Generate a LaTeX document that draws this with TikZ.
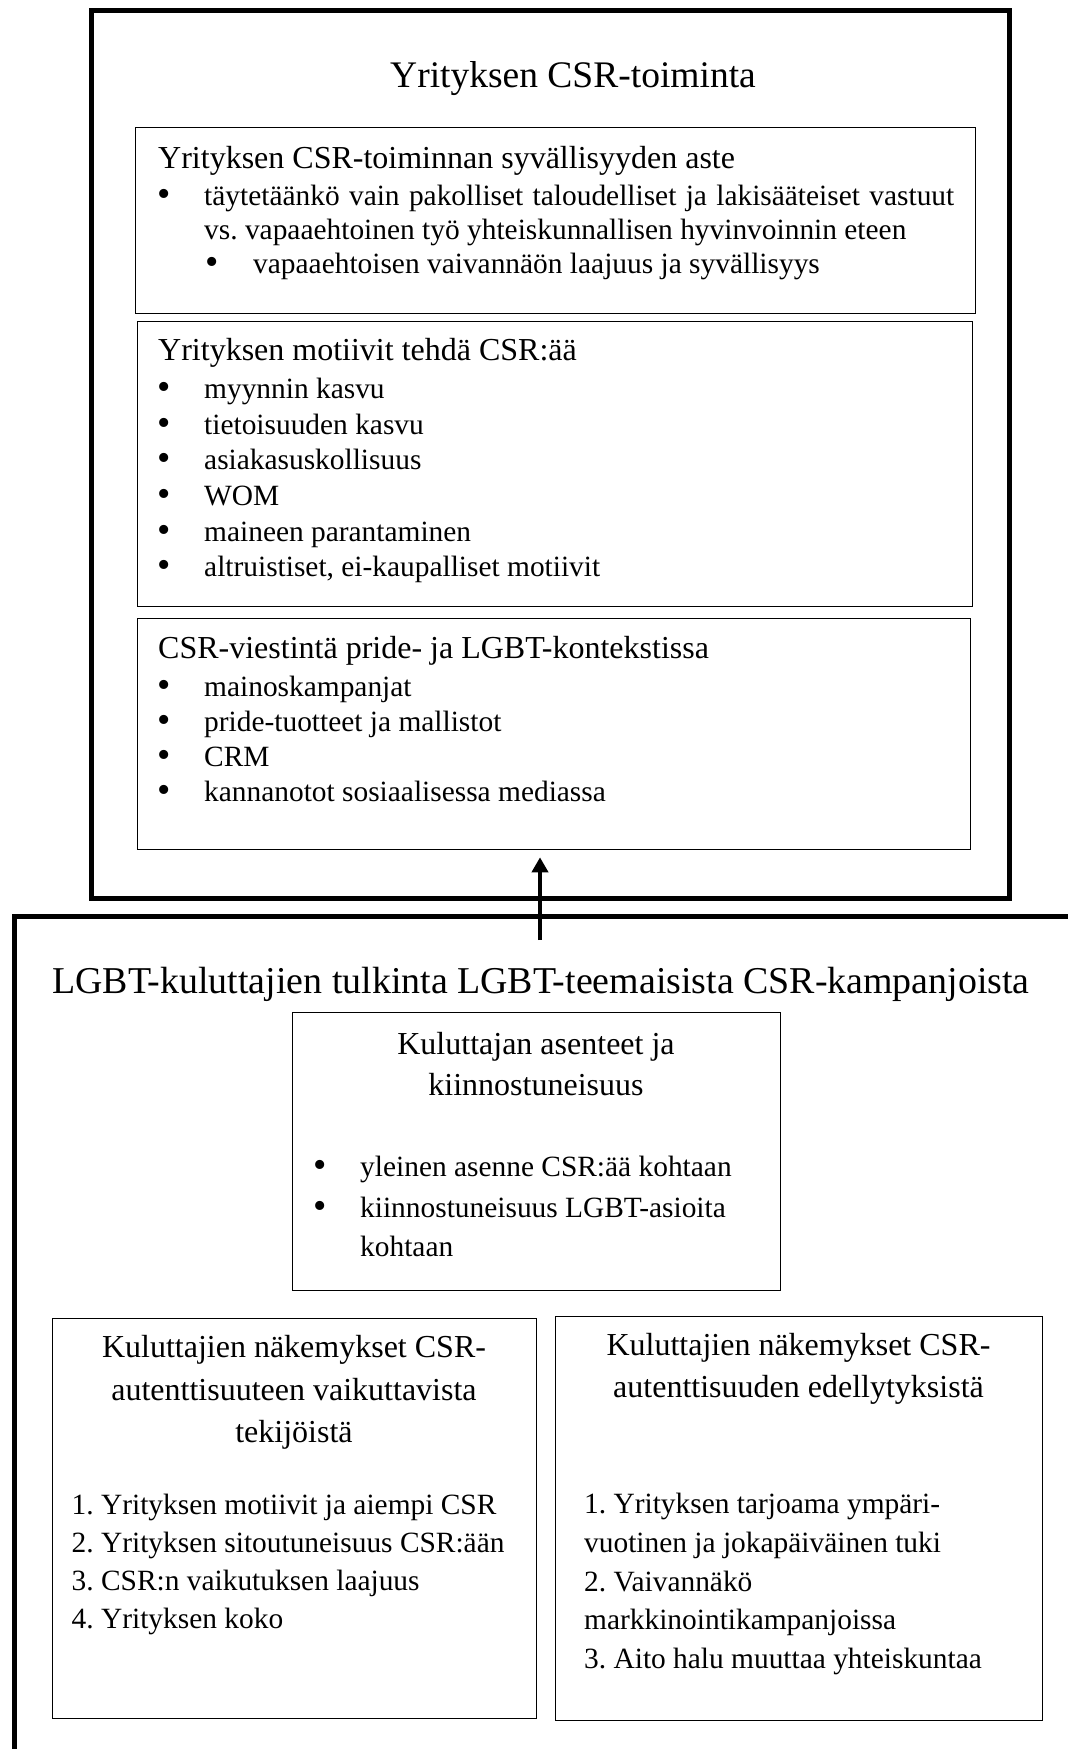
\documentclass[tikz,border=0pt]{standalone}
\usepackage{fontspec}
\setmainfont{Liberation Serif}
\usetikzlibrary{arrows.meta}
\newcommand{\bul}[1]{\makebox[#1pt][l]{\makebox[10pt][c]{\fontsize{38}{38}\selectfont\raisebox{-1pt}{•}}}}
\frenchspacing
\begin{document}
\frenchspacing
\begin{tikzpicture}[x=1pt,y=-1pt,
  frame/.style={draw, line width=5pt, inner sep=0pt, anchor=north west},
  box/.style={draw, line width=1.3pt, inner sep=0pt, anchor=north west},
  txt/.style={anchor=mid west, inner sep=0pt, font=\fontsize{32}{36}\selectfont},
  itm/.style={anchor=mid west, inner sep=0pt, font=\fontsize{29.4}{34}\selectfont},
  ctxt/.style={anchor=mid, inner sep=0pt, font=\fontsize{32}{36}\selectfont},
  bigA/.style={anchor=mid, inner sep=0pt, font=\fontsize{37.5}{40}\selectfont},
  bigB/.style={anchor=mid, inner sep=0pt, font=\fontsize{37.9}{40}\selectfont},
  arr/.style={line width=4pt, -{Triangle[length=15pt,width=16pt]}}]
\useasboundingbox (0,0) rectangle (1068,1749);
\clip (0,0) rectangle (1068,1749);
\fill[white] (0,0) rectangle (1068,1749);

% top frame
\node[frame, minimum width=918pt, minimum height=888pt] (top) at (89,8) {};
\node[bigA] (ttl1) at (573,85) {Yrityksen CSR-toiminta};

\node[box, minimum width=840pt, minimum height=186pt] (b1) at (135,127) {};
\node[txt] (b1h) at (158,166) {Yrityksen CSR-toiminnan syvällisyyden aste};
\node[itm] (b1a) at (159,203) {\bul{45}\makebox[750pt][s]{täytetäänkö vain pakolliset taloudelliset ja lakisääteiset vastuut}};
\node[itm] (b1b) at (204,237) {vs. vapaaehtoinen työ yhteiskunnallisen hyvinvoinnin eteen};
\node[itm] (b1c) at (207,271) {\bul{46}vapaaehtoisen vaivannäön laajuus ja syvällisyys};

\node[box, minimum width=835pt, minimum height=285pt] (b2) at (137,321) {};
\node[txt] (b2h) at (158,358) {Yrityksen motiivit tehdä CSR:ää};
\node[itm] (b2a) at (159,396.5) {\bul{45}myynnin kasvu};
\node[itm] (b2b) at (159,432) {\bul{45}tietoisuuden kasvu};
\node[itm] (b2c) at (159,467) {\bul{45}asiakasuskollisuus};
\node[itm] (b2d) at (159,503) {\bul{45}WOM};
\node[itm] (b2e) at (159,539) {\bul{45}maineen parantaminen};
\node[itm] (b2f) at (159,574.5) {\bul{45}altruistiset, ei-kaupalliset motiivit};

\node[box, minimum width=833pt, minimum height=231pt] (b3) at (137,618) {};
\node[txt] (b3h) at (158,656) {CSR-viestintä pride- ja LGBT-kontekstissa};
\node[itm] (b3a) at (159,694) {\bul{45}mainoskampanjat};
\node[itm] (b3b) at (159,729) {\bul{45}pride-tuotteet ja mallistot};
\node[itm] (b3c) at (159,764) {\bul{45}CRM};
\node[itm] (b3d) at (159,799.5) {\bul{45}kannanotot sosiaalisessa mediassa};

% bottom frame
\node[frame, minimum width=1200pt, minimum height=1000pt] (bot) at (12,914) {};
\node[bigB] (ttl2) at (541,991) {LGBT-kuluttajien tulkinta LGBT-teemaisista CSR-kampanjoista};

\coordinate (astart) at (540,940);
\draw[arr] (astart) -- ([yshift=-7pt]b3.south -| astart);

\node[box, minimum width=488pt, minimum height=278pt] (k) at (292,1012) {};
\node[ctxt] (kh1) at (536,1052) {Kuluttajan asenteet ja};
\node[ctxt] (kh2) at (536,1093) {kiinnostuneisuus};
\node[itm] (ka) at (315,1174) {\bul{45}yleinen asenne CSR:ää kohtaan};
\node[itm] (kb) at (315,1215) {\bul{45}kiinnostuneisuus LGBT-asioita};
\node[itm] (kc) at (360,1254) {kohtaan};

\node[box, minimum width=484pt, minimum height=400pt] (l) at (52,1318) {};
\node[ctxt] (lh1) at (294,1355) {Kuluttajien näkemykset CSR-};
\node[ctxt] (lh2) at (294,1398) {autenttisuuteen vaikuttavista};
\node[ctxt] (lh3) at (294,1440.5) {tekijöistä};
\node[itm] (la) at (71.5,1512) {1. Yrityksen motiivit ja aiempi CSR};
\node[itm] (lb) at (71.5,1550) {2. Yrityksen sitoutuneisuus CSR:ään};
\node[itm] (lc) at (71.5,1588) {3. CSR:n vaikutuksen laajuus};
\node[itm] (ld) at (71.5,1626) {4. Yrityksen koko};

\node[box, minimum width=487pt, minimum height=404pt] (r) at (555,1316) {};
\node[ctxt] (rh1) at (798.5,1353) {Kuluttajien näkemykset CSR-};
\node[ctxt] (rh2) at (798.5,1395) {autenttisuuden edellytyksistä};
\node[itm] (ra) at (584,1511) {1. Yrityksen tarjoama ympäri-};
\node[itm] (rb) at (584,1550) {vuotinen ja jokapäiväinen tuki};
\node[itm] (rc) at (584,1589) {2. Vaivannäkö};
\node[itm] (rd) at (584,1627.5) {markkinointikampanjoissa};
\node[itm] (re) at (584,1666) {3. Aito halu muuttaa yhteiskuntaa};
\end{tikzpicture}
\end{document}
